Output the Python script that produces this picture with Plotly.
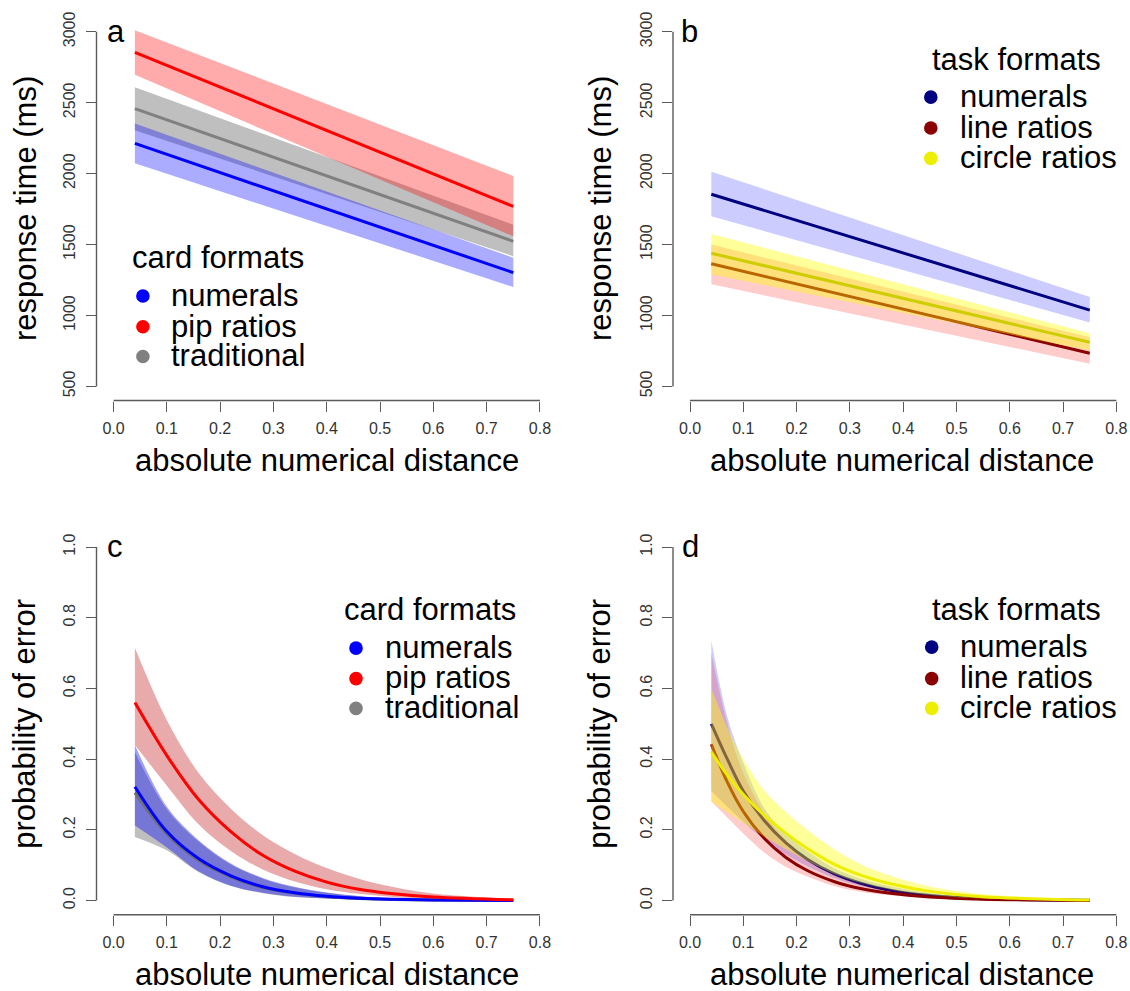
import plotly.graph_objects as go

W, H = 1130, 991

# ---------------- data ----------------
# panels a / b : response time (linear fits, 95% CI), x = absolute numerical distance
x_lin = [0.04, 0.75]

card_num_rt = [2213, 1302]
card_num_rt_lo = [2073, 1201]
card_num_rt_hi = [2353, 1407]
card_pip_rt = [2855, 1769]
card_pip_rt_lo = [2697, 1558]
card_pip_rt_hi = [3012, 1984]
card_trad_rt = [2458, 1523]
card_trad_rt_lo = [2306, 1418]
card_trad_rt_hi = [2610, 1640]

task_num_rt = [1855, 1038]
task_num_rt_lo = [1699, 951]
task_num_rt_hi = [2014, 1131]
task_line_rt = [1365, 734]
task_line_rt_lo = [1220, 659]
task_line_rt_hi = [1500, 846]
task_circ_rt = [1439, 811]
task_circ_rt_lo = [1290, 753]
task_circ_rt_hi = [1575, 874]

# panel c : probability of error, card formats
x_c = [0.04, 0.10, 0.16, 0.22, 0.28, 0.34, 0.40, 0.46, 0.52, 0.60, 0.75]
card_pip_err = [0.560, 0.410, 0.285, 0.195, 0.128, 0.083, 0.052, 0.032, 0.020, 0.010, 0.002]
card_pip_err_hi = [0.715, 0.510, 0.360, 0.260, 0.185, 0.132, 0.092, 0.062, 0.040, 0.020, 0.005]
card_pip_err_lo = [0.440, 0.325, 0.215, 0.140, 0.088, 0.054, 0.032, 0.019, 0.011, 0.005, 0.0008]
card_num_err = [0.322, 0.195, 0.118, 0.070, 0.039, 0.022, 0.012, 0.0065, 0.0035, 0.0015, 0.0003]
card_num_err_hi = [0.440, 0.265, 0.170, 0.105, 0.064, 0.039, 0.023, 0.013, 0.007, 0.003, 0.0008]
card_num_err_lo = [0.212, 0.150, 0.082, 0.042, 0.022, 0.011, 0.006, 0.003, 0.0015, 0.0006, 0.0001]
card_trad_err = [0.305, 0.188, 0.113, 0.067, 0.037, 0.021, 0.011, 0.006, 0.003, 0.0014, 0.0003]
card_trad_err_hi = [0.420, 0.258, 0.166, 0.102, 0.062, 0.037, 0.022, 0.012, 0.006, 0.0028, 0.0007]
card_trad_err_lo = [0.180, 0.142, 0.080, 0.041, 0.021, 0.010, 0.0055, 0.003, 0.0014, 0.0005, 0.0001]

# panel d : probability of error, task formats
x_d = [0.04, 0.07, 0.10, 0.14, 0.18, 0.22, 0.27, 0.32, 0.38, 0.45, 0.55, 0.75]
task_num_err = [0.500, 0.400, 0.310, 0.225, 0.163, 0.117, 0.076, 0.049, 0.028, 0.014, 0.005, 0.0008]
task_num_err_hi = [0.735, 0.520, 0.390, 0.260, 0.190, 0.140, 0.092, 0.062, 0.039, 0.021, 0.009, 0.0015]
task_num_err_lo = [0.310, 0.265, 0.222, 0.172, 0.130, 0.097, 0.064, 0.041, 0.024, 0.012, 0.0045, 0.0005]
task_line_err = [0.442, 0.335, 0.252, 0.175, 0.122, 0.085, 0.054, 0.034, 0.020, 0.010, 0.004, 0.0005]
task_line_err_hi = [0.700, 0.500, 0.360, 0.245, 0.168, 0.117, 0.075, 0.048, 0.029, 0.016, 0.006, 0.001]
task_line_err_lo = [0.280, 0.235, 0.190, 0.135, 0.095, 0.068, 0.041, 0.025, 0.014, 0.007, 0.0025, 0.0002]
task_circ_err = [0.420, 0.355, 0.300, 0.240, 0.190, 0.147, 0.103, 0.072, 0.046, 0.026, 0.011, 0.0015]
task_circ_err_hi = [0.600, 0.490, 0.400, 0.310, 0.250, 0.200, 0.145, 0.103, 0.068, 0.040, 0.018, 0.003]
task_circ_err_lo = [0.280, 0.250, 0.220, 0.180, 0.145, 0.112, 0.076, 0.050, 0.030, 0.016, 0.006, 0.0007]

# ticks / labels
x_ticks = [0, 0.1, 0.2, 0.3, 0.4, 0.5, 0.6, 0.7, 0.8]
x_tick_text = ["0.0", "0.1", "0.2", "0.3", "0.4", "0.5", "0.6", "0.7", "0.8"]
rt_ticks = [500, 1000, 1500, 2000, 2500, 3000]
rt_tick_text = ["500", "1000", "1500", "2000", "2500", "3000"]
p_ticks = [0, 0.2, 0.4, 0.6, 0.8, 1.0]
p_tick_text = ["0.0", "0.2", "0.4", "0.6", "0.8", "1.0"]

card_labels = ["numerals", "pip ratios", "traditional"]
task_labels = ["numerals", "line ratios", "circle ratios"]
x_title = "absolute numerical distance"
rt_title = "response time (ms)"
p_title = "probability of error"

# ---------------- styling ----------------
FONT = "Liberation Sans, Arial, Helvetica, sans-serif"
AXC = "#5a5a5a"
BIG = 31


def fx(px):
    return px / W


def fy(py):
    return 1 - py / H


fig = go.Figure()


def band(xs, lo, hi, color, ax, smooth=True):
    shape = dict(shape="spline", smoothing=1.0) if smooth else {}
    fig.add_trace(go.Scatter(x=xs, y=lo, mode="lines", line=dict(width=0, **shape),
                             showlegend=False, hoverinfo="skip", xaxis="x" + ax, yaxis="y" + ax))
    fig.add_trace(go.Scatter(x=xs, y=hi, mode="lines", line=dict(width=0, **shape),
                             fill="tonexty", fillcolor=color,
                             showlegend=False, hoverinfo="skip", xaxis="x" + ax, yaxis="y" + ax))


def curve(xs, ys, color, ax, name, smooth=True):
    shape = dict(shape="spline", smoothing=1.0) if smooth else {}
    fig.add_trace(go.Scatter(x=xs, y=ys, mode="lines", line=dict(color=color, width=3, **shape),
                             name=name, showlegend=False, xaxis="x" + ax, yaxis="y" + ax))


# panel a
band(x_lin, card_trad_rt_lo, card_trad_rt_hi, "rgba(128,128,128,0.5)", "", False)
band(x_lin, card_num_rt_lo, card_num_rt_hi, "rgba(0,0,255,0.33)", "", False)
band(x_lin, card_pip_rt_lo, card_pip_rt_hi, "rgba(255,0,0,0.33)", "", False)
curve(x_lin, card_trad_rt, "#808080", "", "traditional", False)
curve(x_lin, card_num_rt, "#0000ff", "", "numerals", False)
curve(x_lin, card_pip_rt, "#ff0000", "", "pip ratios", False)

# panel b
band(x_lin, task_num_rt_lo, task_num_rt_hi, "rgba(0,0,255,0.2)", "2", False)
curve(x_lin, task_num_rt, "#000080", "2", "numerals", False)
band(x_lin, task_line_rt_lo, task_line_rt_hi, "rgba(255,0,0,0.2)", "2", False)
curve(x_lin, task_line_rt, "#8b0000", "2", "line ratios", False)
band(x_lin, task_circ_rt_lo, task_circ_rt_hi, "rgba(255,255,0,0.4)", "2", False)
curve(x_lin, task_circ_rt, "#cdcd00", "2", "circle ratios", False)

# panel c
band(x_c, card_trad_err_lo, card_trad_err_hi, "rgba(128,128,128,0.5)", "3")
band(x_c, card_num_err_lo, card_num_err_hi, "rgba(0,0,255,0.38)", "3")
band(x_c, card_pip_err_lo, card_pip_err_hi, "rgba(198,42,42,0.4)", "3")
curve(x_c, card_trad_err, "#707070", "3", "traditional")
curve(x_c, card_num_err, "#0000ff", "3", "numerals")
curve(x_c, card_pip_err, "#ff0000", "3", "pip ratios")

# panel d
band(x_d, task_num_err_lo, task_num_err_hi, "rgba(0,0,255,0.2)", "4")
curve(x_d, task_num_err, "#000080", "4", "numerals")
band(x_d, task_line_err_lo, task_line_err_hi, "rgba(255,0,0,0.2)", "4")
curve(x_d, task_line_err, "#8b0000", "4", "line ratios")
band(x_d, task_circ_err_lo, task_circ_err_hi, "rgba(255,255,0,0.4)", "4")
curve(x_d, task_circ_err, "#eeee00", "4", "circle ratios")

# ---------------- axes ----------------
left_dom = [fx(96.5), fx(557)]
right_dom = [fx(673), 1.0]
top_dom = [fy(396.97), fy(11.73)]
bot_dom = [fy(914.23), fy(530.07)]
left_range = [-0.032, 0.832]
right_range = [(673 - 690) / 533, (W - 690) / 533]

common = dict(showgrid=False, zeroline=False, showline=False, ticks="outside",
              ticklen=10, tickwidth=1.4, tickcolor=AXC,
              tickfont=dict(family=FONT, size=16, color="#333333"))

layout_axes = {}
panels = [("", left_dom, top_dom, left_range, "rt"),
          ("2", right_dom, top_dom, right_range, "rt"),
          ("3", left_dom, bot_dom, left_range, "p"),
          ("4", right_dom, bot_dom, right_range, "p")]
for ax, xd, yd, xr, kind in panels:
    xn = "xaxis" + ax
    yn = "yaxis" + ax
    layout_axes[xn] = dict(domain=xd, range=xr, anchor="y" + ax, ticklabelstandoff=3,
                           tickvals=x_ticks, ticktext=x_tick_text, **common)
    if kind == "rt":
        layout_axes[yn] = dict(domain=yd, range=[400, 3100], anchor="x" + ax,
                               ticklabelstandoff=4,
                               tickvals=rt_ticks, ticktext=rt_tick_text, tickangle=-90, **common)
    else:
        layout_axes[yn] = dict(domain=yd, range=[-0.04, 1.04], anchor="x" + ax,
                               ticklabelstandoff=4,
                               tickvals=p_ticks, ticktext=p_tick_text, tickangle=-90, **common)

shapes = []
for ax, xd, yd, xr, kind in panels:
    yt = rt_ticks if kind == "rt" else p_ticks
    shapes.append(dict(type="line", xref="x" + ax, yref="y" + ax + " domain",
                       x0=x_ticks[0], x1=x_ticks[-1], y0=0, y1=0,
                       line=dict(color=AXC, width=1.4)))
    shapes.append(dict(type="line", xref="x" + ax + " domain", yref="y" + ax,
                       x0=0, x1=0, y0=yt[0], y1=yt[-1],
                       line=dict(color=AXC, width=1.4)))

annotations = []


def text(s, px, py, size=BIG, anchor="left", angle=0):
    annotations.append(dict(text=s, x=fx(px), y=fy(py), xref="paper", yref="paper",
                            xanchor=anchor, yanchor="middle", showarrow=False,
                            textangle=angle, font=dict(family=FONT, size=size, color="black")))


def dot(px, py, color, r=6.8):
    shapes.append(dict(type="circle", xref="paper", yref="paper",
                       xsizemode="pixel", ysizemode="pixel",
                       xanchor=fx(px), yanchor=fy(py), x0=-r, x1=r, y0=-r, y1=r,
                       fillcolor=color, line=dict(width=0)))


# panel letters
text("a", 104.8, 25.3)
text("b", 678.7, 25.3)
text("c", 104.8, 543.3)
text("d", 679.6, 543.3)

# axis titles
text(x_title, 326.8, 457.6, anchor="center")
text(x_title, 902, 457.6, anchor="center")
text(x_title, 326.8, 974.9, anchor="center")
text(x_title, 902, 974.9, anchor="center")
text(rt_title, 25, 204.3, anchor="center", angle=-90)
text(rt_title, 600, 204.3, anchor="center", angle=-90)
text(p_title, 25, 722.2, anchor="center", angle=-90)
text(p_title, 600, 722.2, anchor="center", angle=-90)

# legends
card_colors = ["#0000ff", "#ff0000", "#808080"]
task_colors = ["#000080", "#8b0000", "#eeee00"]


def legend(title, labels, colors, tx, ty, dx, dys, lx):
    text(title, tx, ty)
    for lab, col, dy in zip(labels, colors, dys):
        dot(dx, dy, col)
        text(lab, lx, dy - 0.7)


legend("card formats", card_labels, card_colors, 129.5, 252.6, 142.9, [291.7, 322.7, 352.7], 169.3)
legend("task formats", task_labels, task_colors, 930.3, 54.3, 930.8, [91.7, 122.7, 153.3], 957.8)
legend("card formats", card_labels, card_colors, 341.7, 607.6, 356, [646, 676.7, 706.7], 382.5)
legend("task formats", task_labels, task_colors, 930.4, 607.6, 931.7, [645, 676.7, 706.7], 957.8)

fig.update_layout(width=W, height=H, margin=dict(l=0, r=0, t=0, b=0),
                  paper_bgcolor="white", plot_bgcolor="white", showlegend=False,
                  font=dict(family=FONT), shapes=shapes, annotations=annotations,
                  **layout_axes)

fig.write_html("out.html")
